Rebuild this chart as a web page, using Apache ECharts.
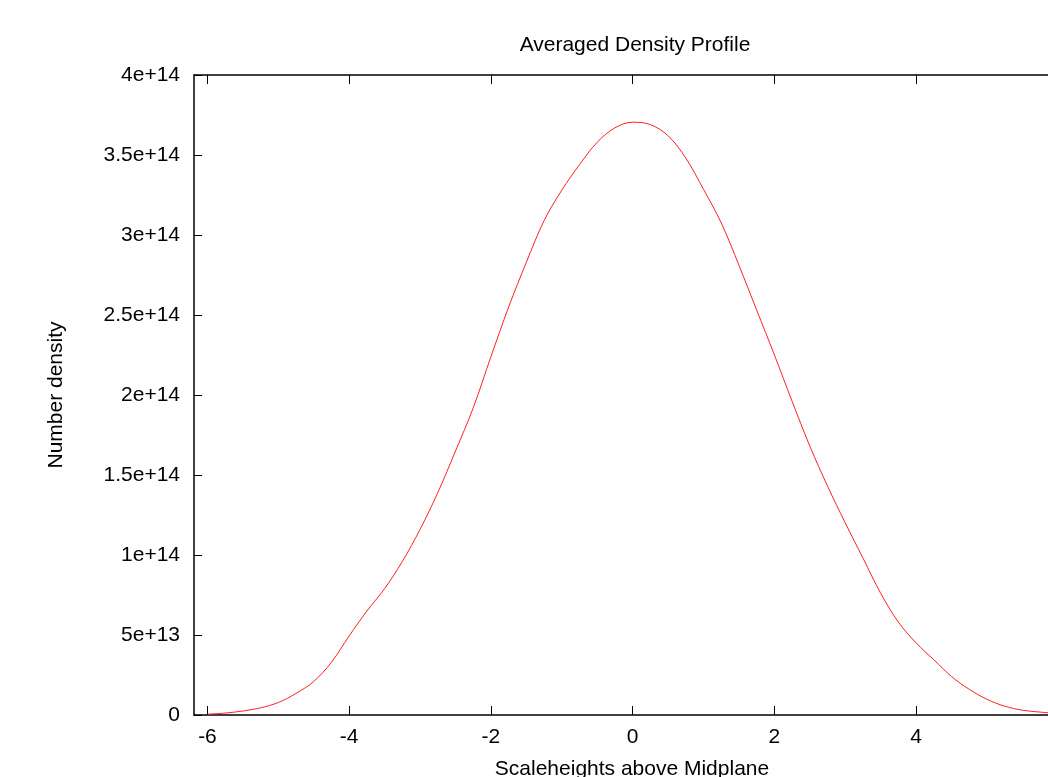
<!DOCTYPE html>
<html>
<head>
<meta charset="utf-8">
<script src="https://cdn.jsdelivr.net/npm/echarts@6/dist/echarts.min.js"></script>
<style>
html,body{margin:0;padding:0;background:#fff;}
#chart{width:1048px;height:777px;}
</style>
</head>
<body>
<div id="chart"></div>
<script>
var xValues = [-6.0,-5.75,-5.5,-5.25,-5.0,-4.75,-4.5,-4.25,-4.0,-3.75,-3.5,-3.25,-3.0,-2.75,-2.5,-2.25,-2.0,-1.75,-1.5,-1.25,-1.0,-0.75,-0.5,-0.25,0.0,0.25,0.5,0.75,1.0,1.25,1.5,1.75,2.0,2.25,2.5,2.75,3.0,3.25,3.5,3.75,4.0,4.25,4.5,4.75,5.0,5.25,5.5,5.75,6.0];
var densityE13 = [0.05,0.12,0.25,0.45,0.78,1.35,2.1,3.3,4.95,6.5,7.9,9.6,11.6,13.9,16.5,19.2,22.4,25.5,28.3,30.9,32.8,34.4,35.8,36.7,37.05,36.9,36.2,34.8,32.85,30.75,28.1,25.3,22.5,19.6,16.8,14.3,12.0,9.8,7.6,5.8,4.5,3.45,2.4,1.6,0.98,0.55,0.3,0.18,0.1];
var xTicks = [-6,-4,-2,0,2,4];
var yTickLabels = ['0','5e+13','1e+14','1.5e+14','2e+14','2.5e+14','3e+14','3.5e+14','4e+14'];
var titleText = 'Averaged Density Profile';
var xName = 'Scaleheights above Midplane';
var yName = 'Number density';

var seriesData = xValues.map(function (x, i) { return [x, densityE13[i] * 1e13]; });
var font = 'Liberation Sans, Arial, sans-serif';
var fs = 21;

var chart = echarts.init(document.getElementById('chart'), null, {renderer: 'canvas'});
chart.setOption({
  animation: false,
  backgroundColor: '#ffffff',
  title: {
    text: titleText,
    left: 630,
    top: 30,
    textAlign: 'center',
    textStyle: {fontFamily: font, fontSize: fs, fontWeight: 'normal', color: '#000'}
  },
  grid: {left: 194, top: 75, bottom: 62, right: 0, containLabel: false, outerBoundsMode: 'none'},
  xAxis: [{
    type: 'value',
    min: -6.19,
    max: 5.86,
    position: 'bottom',
    name: xName,
    nameLocation: 'middle',
    nameGap: 44,
    nameTextStyle: {fontFamily: font, fontSize: fs, color: '#000', padding: [0, 0, 0, 22]},
    axisLine: {show: true, onZero: false, lineStyle: {color: '#000', width: 1.5}},
    axisTick: {show: true, inside: true, length: 9, customValues: xTicks, lineStyle: {color: '#000', width: 1}},
    axisLabel: {show: true, margin: 12, customValues: xTicks, fontFamily: font, fontSize: fs, color: '#000'},
    splitLine: {show: false}
  }, {
    type: 'value',
    min: -6.19,
    max: 5.86,
    position: 'top',
    axisLine: {show: true, onZero: false, lineStyle: {color: '#000', width: 1.5}},
    axisTick: {show: true, inside: true, length: 9, customValues: xTicks, lineStyle: {color: '#000', width: 1}},
    axisLabel: {show: false},
    splitLine: {show: false}
  }],
  yAxis: {
    type: 'value',
    min: 0,
    max: 4e14,
    interval: 5e13,
    name: yName,
    nameLocation: 'middle',
    nameGap: 127,
    nameRotate: 90,
    nameTextStyle: {fontFamily: font, fontSize: fs, color: '#000'},
    axisLine: {show: true, onZero: false, lineStyle: {color: '#000', width: 1.5}},
    axisTick: {show: true, inside: true, length: 8, lineStyle: {color: '#000', width: 1}},
    axisLabel: {
      margin: 14,
      fontFamily: font, fontSize: fs, color: '#000',
      formatter: function (v) { return yTickLabels[Math.round(v / 5e13)]; }
    },
    splitLine: {show: false}
  },
  series: [{
    type: 'line',
    xAxisIndex: 0,
    data: seriesData,
    smooth: 0.35,
    showSymbol: false,
    lineStyle: {color: '#ff2020', width: 1}
  }]
});
</script>
</body>
</html>
